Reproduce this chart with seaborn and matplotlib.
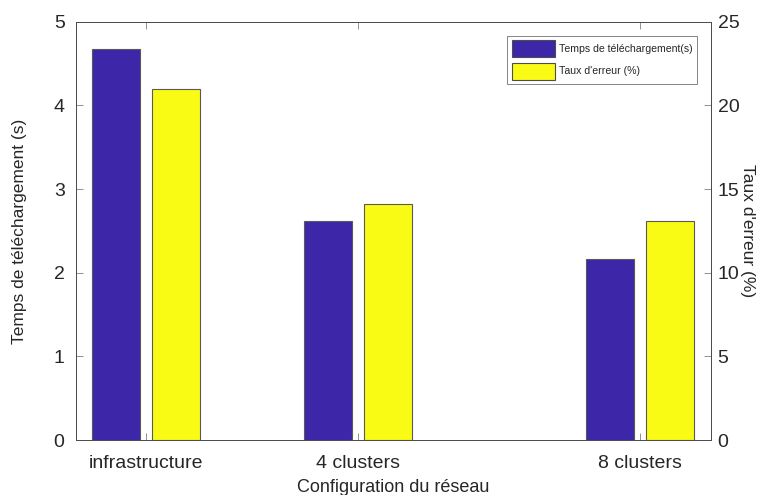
import pandas as pd
import matplotlib.pyplot as plt
import numpy as np
import seaborn as sns

sns.set_theme(style="ticks")
plt.rcParams['font.family'] = ['Liberation Sans', 'DejaVu Sans']

# data
configs   = ['infrastructure', '4 clusters', '8 clusters']
n_cluster = [1, 4, 8]                 # number of clusters (x position, native scale)
temps     = [4.68, 2.62, 2.16]        # temps de telechargement (s)  -> left axis
erreur    = [21.0, 14.1, 13.1]        # taux d'erreur (%)            -> right axis

series    = ['Temps de téléchargement(s)', "Taux d'erreur (%)"]
colors    = ['#3E26A8', '#F9FB15']

left_max, right_max = 5, 25
scale = right_max / left_max

# long table, error rescaled to left axis units so both share one dodge
df = pd.DataFrame({
    'clusters': n_cluster * 2,
    'value': temps + [e / scale for e in erreur],
    'serie': [series[0]] * 3 + [series[1]] * 3,
})

txt = '0.15'
fig = plt.figure(figsize=(7.65, 4.95), dpi=100)
ax = fig.add_axes([0.099, 0.111, 0.830, 0.845])

sns.barplot(data=df, x='clusters', y='value', hue='serie', hue_order=series,
            palette=colors, native_scale=True, width=0.567, gap=0.2,
            edgecolor='0.35', linewidth=0.8, saturation=1, ax=ax, legend=False)

ax.set_xlim(0, 9)
ax.set_ylim(0, left_max)
ax.set_xticks(n_cluster)
ax.set_xticklabels(configs)
ax.set_yticks(np.arange(0, left_max + 1, 1))
ax.set_xlabel('Configuration du réseau', fontsize=13, color=txt)
ax.set_ylabel('Temps de téléchargement (s)', fontsize=12.5, color=txt)
ax.xaxis.set_label_coords(0.5, -0.092)
ax.yaxis.set_label_coords(-0.077, 0.5)
ax.tick_params(direction='in', top=True, labelsize=14, length=5, width=0.6,
               color='0.5', labelcolor=txt)
ax.tick_params(axis='x', pad=11)
ax.tick_params(axis='y', pad=8)
for s in ax.spines.values():
    s.set_linewidth(0.7)
    s.set_color('0.3')

ax2 = ax.twinx()
ax2.set_ylim(0, right_max)
ax2.set_yticks(np.arange(0, right_max + 1, 5))
ax2.set_ylabel("Taux d'erreur (%)", fontsize=12.5, rotation=270, color=txt, va='center')
ax2.yaxis.set_label_coords(1.058, 0.5)
ax2.tick_params(direction='in', labelsize=14, length=5, width=0.6, pad=5,
                color='0.5', labelcolor=txt)
for s in ax2.spines.values():
    s.set_linewidth(0.7)
    s.set_color('0.3')

handles = [plt.Rectangle((0, 0), 1, 1, facecolor=c, edgecolor='0.3', linewidth=0.8) for c in colors]
leg = ax2.legend(handles, series, loc='upper right', bbox_to_anchor=(0.979, 0.967),
                 fontsize=7.6, frameon=True, fancybox=False, handlelength=4.1,
                 handleheight=2.1, borderpad=0.45, labelspacing=0.5, handletextpad=0.35,
                 borderaxespad=0)
leg.get_frame().set_edgecolor('0.4')
leg.get_frame().set_linewidth(0.7)
for t in leg.get_texts():
    t.set_color(txt)

plt.savefig('out.png', dpi=100)
